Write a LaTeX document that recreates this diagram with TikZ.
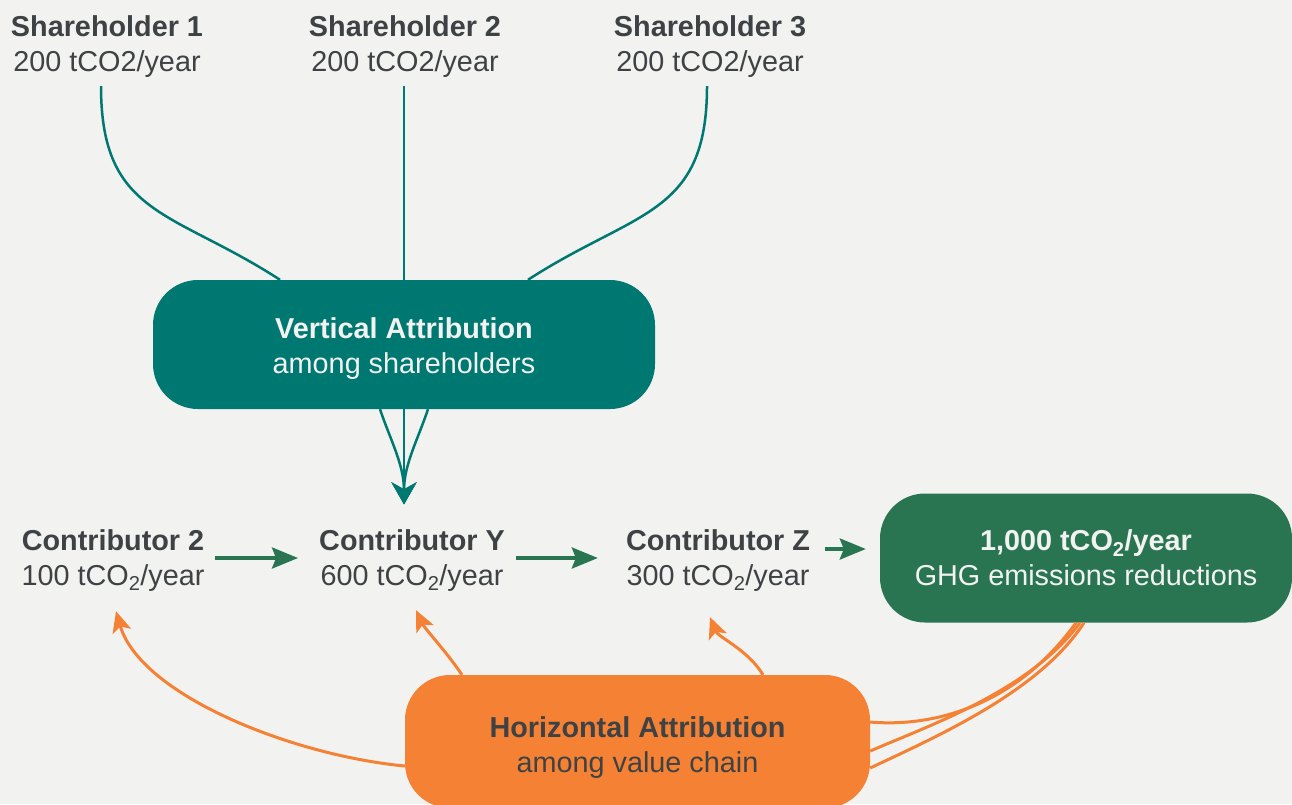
\documentclass[tikz,border=0pt]{standalone}
\usepackage{fontspec}
\setmainfont{Liberation Sans}
\usepackage{xcolor}
\usetikzlibrary{arrows.meta}
\definecolor{bgc}{HTML}{F2F2F0}
\definecolor{ink}{HTML}{3F4244}
\definecolor{vteal}{HTML}{007872}
\definecolor{vgreen}{HTML}{297552}
\definecolor{horange}{HTML}{F58234}
\begin{document}
\begin{tikzpicture}[x=1pt,y=-1pt,
    lbl/.style={align=center,inner sep=0pt,text=ink,font=\fontsize{28.8}{35}\selectfont},
    box/.style={lbl,rounded corners=45pt,minimum height=129pt},
    vline/.style={vteal,line width=2.5pt},
    varrow/.style={vline,-{Stealth[length=22pt,width=25pt,inset=7pt]}},
    garrow/.style={vgreen,line width=3.5pt,-{Stealth[length=26pt,width=21pt,inset=4pt]}},
    harrow/.style={horange,line width=3pt,-{Stealth[length=21pt,width=19pt,inset=5pt]}},
    hline/.style={horange,line width=3pt}]
  \fill[bgc] (0,0) rectangle (1292,804);
  \useasboundingbox (0,0) rectangle (1292,804);

  \node[lbl] (sh1) at (107,47) {\textbf{Shareholder 1}\\200 tCO2/year};
  \node[lbl] (sh2) at (405,47) {\textbf{Shareholder 2}\\200 tCO2/year};
  \node[lbl] (sh3) at (710,47) {\textbf{Shareholder 3}\\200 tCO2/year};
  \node[box,fill=vteal,text=bgc,minimum width=502pt] (vert) at (404,344.5)
    {\rule{0pt}{29pt}\textbf{Vertical Attribution}\\among shareholders};
  \node[lbl] (c2) at (113,560.5) {\textbf{Contributor 2}\\100 tCO\textsubscript{2}/year};
  \node[lbl] (cy) at (412,560.5) {\textbf{Contributor Y}\\600 tCO\textsubscript{2}/year};
  \node[lbl] (cz) at (718,560.5) {\textbf{Contributor Z}\\300 tCO\textsubscript{2}/year};
  \node[box,fill=vgreen,text=bgc,minimum width=412pt] (total) at (1086,558)
    {\textbf{1,000 tCO\textsubscript{2}/year}\\GHG emissions reductions};
  \node[box,fill=horange,minimum width=465pt,minimum height=133pt] (horiz) at (637.5,741.5)
    {\rule{0pt}{33pt}\textbf{Horizontal Attribution}\\among value chain};

  % shareholders into the vertical box
  \draw[vline] ([shift={(-6,8)}]sh1.south) .. controls +(0,130) and +(-108,-70) .. ([shift={(-124,0)}]vert.north);
  \draw[vline] ([shift={(-1,8)}]sh2.south) -- (vert.north);
  \draw[vline] ([shift={(-3,8)}]sh3.south) .. controls +(0,130) and +(108,-70) .. ([shift={(124,0)}]vert.north);

  % vertical box down to contributor Y
  \draw[varrow] ([shift={(-24,0)}]vert.south) .. controls +(10,30) and +(0,-40) .. ([shift={(-8,-25)}]cy.north);
  \draw[varrow] (vert.south) -- ([shift={(-8,-25)}]cy.north);
  \draw[varrow] ([shift={(24,0)}]vert.south) .. controls +(-10,30) and +(0,-40) .. ([shift={(-8,-25)}]cy.north);

  % value chain
  \path[garrow]
    ([shift={(10,-2.5)}]c2.east) edge ([shift={(-21,-2.5)}]cy.west)
    ([shift={(11,-2.5)}]cy.east) edge ([shift={(-28,-2.5)}]cz.west)
    ([shift={(15,-11.5)}]cz.east) edge ([shift={(-14,-9)}]total.west);

  % horizontal attribution
  \draw[harrow] ([shift={(0,24.5)}]horiz.west) .. controls +(-115,-11) and +(24,83) .. ([shift={(3,19.5)}]c2.south);
  \draw[harrow] ([shift={(-175.5,0)}]horiz.north) .. controls +(-17,-25) and +(9,19) .. ([shift={(4,18.5)}]cy.south);
  \draw[harrow] ([shift={(125.5,0)}]horiz.north) .. controls +(-15,-25) and +(8,20) .. ([shift={(-8,25.5)}]cz.south);
  \draw[hline] ([shift={(-10,0)}]total.south) .. controls +(-56,78) and +(70,6) .. ([shift={(0,-19.5)}]horiz.east);
  \draw[hline] ([shift={(-6,0)}]total.south) .. controls +(-50,68) and +(60,-26) .. ([shift={(0,9.5)}]horiz.east);
  \draw[hline] ([shift={(-2,0)}]total.south) .. controls +(-44,68) and +(70,-33) .. ([shift={(0,26.5)}]horiz.east);
\end{tikzpicture}
\end{document}
